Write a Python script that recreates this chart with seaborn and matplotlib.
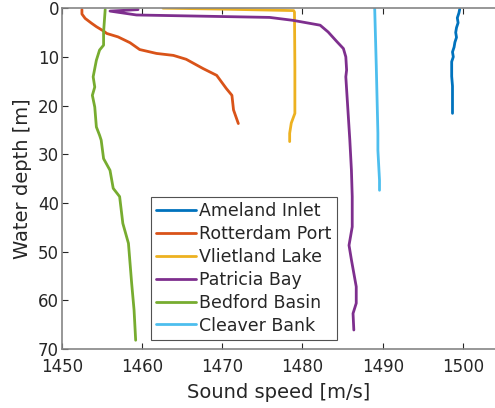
import numpy as np
import pandas as pd
import seaborn as sns
import matplotlib
matplotlib.use("Agg")
import matplotlib.pyplot as plt

# ---- data (sound speed [m/s], depth [m]) ----
ameland_speed = [1499.6, 1499.5, 1499.3, 1499.4, 1499.2, 1499.1, 1499.2, 1499.0, 1498.9, 1498.7,
                 1498.8, 1498.6, 1498.6, 1498.6, 1498.7, 1498.7, 1498.7, 1498.7]
ameland_depth = [0.2, 1.0, 2.0, 3.0, 4.0, 5.0, 6.0, 7.0, 8.0, 9.0,
                 10.0, 11.0, 12.0, 14.0, 16.0, 18.0, 20.0, 21.6]

rotterdam_speed = [1452.5, 1452.5, 1452.9, 1453.7, 1454.3, 1455.2, 1455.6, 1457.0, 1458.5, 1459.7,
                   1461.8, 1463.9, 1465.5, 1467.6, 1469.3, 1470.5, 1471.2, 1471.4, 1472.0]
rotterdam_depth = [0.3, 1.2, 2.1, 3.1, 3.8, 4.7, 5.2, 5.9, 7.1, 8.5,
                   9.3, 9.7, 10.5, 12.4, 13.8, 16.5, 17.9, 20.9, 23.7]

vlietland_speed = [1462.6, 1470.0, 1478.9, 1479.0, 1479.05, 1479.05, 1478.6, 1478.4, 1478.4]
vlietland_depth = [0.0, 0.2, 0.5, 0.8, 12.0, 21.6, 23.6, 25.7, 27.4]

patricia_speed = [1459.5, 1456.0, 1459.3, 1475.9, 1478.8, 1482.2, 1483.2, 1484.3, 1485.1, 1485.4,
                  1485.5, 1485.4, 1485.9, 1486.1, 1486.2, 1486.2, 1485.8, 1486.1, 1486.7, 1486.7,
                  1486.3, 1486.4]
patricia_depth = [0.3, 0.6, 1.4, 1.9, 2.5, 3.5, 4.9, 6.9, 8.3, 10.0,
                  12.7, 14.1, 27.1, 33.3, 38.7, 44.9, 48.7, 51.7, 57.2, 60.6,
                  62.7, 66.1]

bedford_speed = [1455.4, 1455.2, 1455.2, 1454.7, 1454.3, 1453.9, 1454.1, 1453.8, 1454.1, 1454.3,
                 1454.7, 1454.9, 1455.2, 1456.0, 1456.4, 1457.2, 1457.6, 1458.3, 1458.7, 1459.0,
                 1459.2]
bedford_depth = [0.3, 4.9, 7.6, 8.6, 10.7, 14.1, 16.2, 17.9, 20.3, 24.4,
                 26.1, 27.1, 30.9, 33.3, 37.0, 38.7, 44.2, 48.3, 56.5, 62.0,
                 68.2]

cleaver_speed = [1489.0, 1489.1, 1489.2, 1489.4, 1489.4, 1489.6, 1489.6]
cleaver_depth = [0.0, 6.0, 12.0, 25.7, 29.2, 35.3, 37.4]

names = ["Ameland Inlet", "Rotterdam Port", "Vlietland Lake",
         "Patricia Bay", "Bedford Basin", "Cleaver Bank"]
colors = ["#0072BD", "#D95319", "#EDB120", "#7E2F8E", "#77AC30", "#4DBEEE"]

series = [(ameland_speed, ameland_depth), (rotterdam_speed, rotterdam_depth),
          (vlietland_speed, vlietland_depth), (patricia_speed, patricia_depth),
          (bedford_speed, bedford_depth), (cleaver_speed, cleaver_depth)]

frames = []
for i, (name, (s, d)) in enumerate(zip(names, series)):
    frames.append(pd.DataFrame({"speed": s, "depth": d, "site": name, "order": np.arange(len(s))}))
df = pd.concat(frames, ignore_index=True)

sns.set_theme(style="white")
plt.rcParams['font.family'] = ['DejaVu Sans']

fig = plt.figure(figsize=(4.95, 4.08), dpi=100)
ax = fig.add_axes([0.125, 0.1446, 0.875, 0.8354])

sns.lineplot(data=df, x="speed", y="depth", hue="site", hue_order=names,
             palette=colors, sort=False, estimator=None, units="site",
             linewidth=2, ax=ax, legend=True)

ax.set_xlim(1450, 1504)
ax.set_ylim(70, 0)
ax.set_xticks([1450, 1460, 1470, 1480, 1490, 1500])
ax.set_yticks([0, 10, 20, 30, 40, 50, 60, 70])
ax.set_xlabel("Sound speed [m/s]", fontsize=14, color="#262626", labelpad=5)
ax.set_ylabel("Water depth [m]", fontsize=14, color="#262626", labelpad=4)

spine_c = "#858585"
for side in ["left", "bottom", "top"]:
    ax.spines[side].set_visible(True)
    ax.spines[side].set_color(spine_c)
    ax.spines[side].set_linewidth(1.2)
ax.spines["right"].set_visible(False)
ax.tick_params(axis="both", direction="in", length=4, width=0.8, color="#262626",
               labelsize=12, labelcolor="#262626", top=True, bottom=True, left=True, pad=2)
ax.tick_params(axis="x", pad=6.5)

handles, labels = ax.get_legend_handles_labels()
leg = ax.legend(handles, labels, loc="upper left", bbox_to_anchor=(0.205, 0.446),
                fontsize=12.5, frameon=True, fancybox=False, edgecolor="#262626",
                handlelength=2.3, handletextpad=0.2, labelspacing=0.28,
                borderpad=0.3, borderaxespad=0.0)
leg.get_frame().set_linewidth(0.8)
for line in leg.get_lines():
    line.set_linewidth(2)

fig.savefig("out.png", dpi=100)
